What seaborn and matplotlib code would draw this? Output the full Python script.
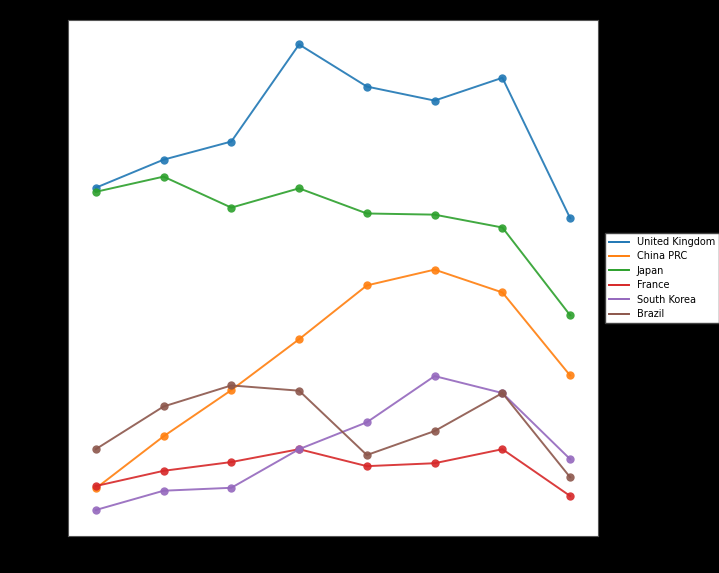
import matplotlib
matplotlib.use("Agg")
import matplotlib.pyplot as plt
from matplotlib.lines import Line2D
import seaborn as sns
import pandas as pd

years = [2010, 2011, 2012, 2013, 2014, 2015, 2016, 2017]
countries = ["United Kingdom", "China PRC", "Japan", "France", "South Korea", "Brazil"]
united_kingdom = [5.33, 5.81, 6.12, 7.78, 7.06, 6.82, 7.21, 4.81]
china_prc = [0.19, 1.08, 1.87, 2.74, 3.66, 3.93, 3.54, 2.12]
japan = [5.26, 5.52, 4.99, 5.32, 4.89, 4.87, 4.65, 3.15]
france = [0.23, 0.49, 0.64, 0.86, 0.57, 0.62, 0.86, 0.06]
south_korea = [-0.18, 0.15, 0.20, 0.86, 1.32, 2.11, 1.82, 0.69]
brazil = [0.86, 1.59, 1.95, 1.86, 0.76, 1.17, 1.82, 0.38]

series = [united_kingdom, china_prc, japan, france, south_korea, brazil]
rows = []
for c, vals in zip(countries, series):
    for i, v in enumerate(vals):
        rows.append({"idx": i, "value": v, "country": c})
df = pd.DataFrame(rows)

pal = sns.color_palette("tab10", 6)
fig = plt.figure(figsize=(7.19, 5.73), dpi=100, facecolor="black")
ax = fig.add_axes([0.0946, 0.0646, 0.737, 0.9004])
ax.set_facecolor("white")
sns.lineplot(data=df, x="idx", y="value", hue="country", hue_order=countries,
             palette=pal, marker="o", markersize=6, alpha=0.9,
             markeredgewidth=0, linewidth=1.4, ax=ax, legend=False)
ax.set_xlim(-0.41, 7.41)
ax.set_ylim(-0.624, 8.197)
ax.set_xticks(range(len(years)))
ax.set_xticklabels([str(y) for y in years], color="black")
ax.tick_params(colors="black")
ax.set_xlabel("")
ax.set_ylabel("")
for s in ax.spines.values():
    s.set_color("#555555")
handles = [Line2D([], [], color=pal[i], lw=1.4) for i in range(len(countries))]
ax.legend(handles, countries, loc="center left", bbox_to_anchor=(1.005, 0.5), fontsize=7,
          frameon=True, fancybox=False, edgecolor="#444444", facecolor="white",
          framealpha=1, handlelength=2.0, borderpad=0.4, labelspacing=0.45)
fig.savefig("out.png", dpi=100, facecolor="black")
